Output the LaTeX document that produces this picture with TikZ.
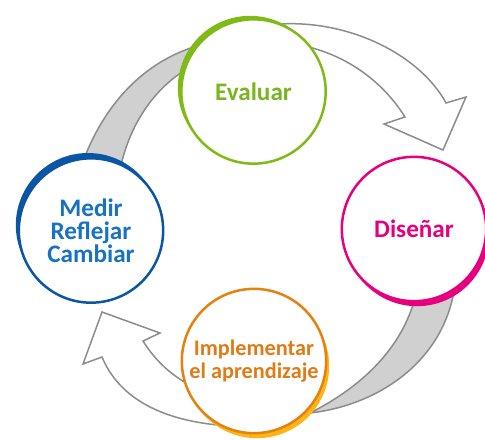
\documentclass[tikz,border=0pt]{standalone}
\usepackage{fontspec}
\setmainfont{Carlito}
\usetikzlibrary{positioning,backgrounds}
\pgfdeclarelayer{bg}
\pgfsetlayers{bg,main}

\definecolor{evgreen}{HTML}{80BA17}
\definecolor{evtext}{HTML}{78B51F}
\definecolor{dsmagenta}{HTML}{E6007E}
\definecolor{mdblue}{HTML}{0A56A4}
\definecolor{mdtext}{HTML}{1872C2}
\definecolor{imorange}{HTML}{E3820F}
\definecolor{imyellow}{HTML}{FDB515}
\definecolor{imtext}{HTML}{E07B16}
\definecolor{arrline}{HTML}{8C8C8C}
\definecolor{arrfill}{HTML}{D0D0D0}

\begin{document}
\begin{tikzpicture}[
  x=0.03cm, y=0.03cm, % 1 unit = 1 px of the sketch
  font=\bfseries,
  stage/.style ={circle,minimum size=4.33cm,inner sep=0pt,fill=white,line width=0.75mm,align=center},
  lift/.style 2 args={preaction={fill=#1,transform canvas={shift={#2}}}},
  bigtxt/.style={font=\bfseries\fontsize{21.5}{19.5}\selectfont},
  smalltxt/.style={font=\bfseries\fontsize{19}{19}\selectfont},
  backarrow/.style ={fill=arrfill,draw=arrline,line width=0.45mm,line join=round},
  frontarrow/.style={fill=white,draw=arrline,line width=0.45mm,line join=miter}
]
\useasboundingbox (0,0) rectangle (485,-439);

% ==================================================
% STAGES (clockwise, starting at the top)
% ==================================================
\node[stage, bigtxt, draw=evgreen, text=evtext,
      lift={evgreen}{(-1.05mm,1.05mm)}] (evaluar) at (253.5,-91.5) {Evaluar};

\node[stage, bigtxt, draw=dsmagenta, text=dsmagenta,
      lift={dsmagenta}{(0.9mm,-1.5mm)}] (disenar) at (414,-229) {Diseñar};

\node[stage, smalltxt, draw=imorange, text=imtext,
      lift={imyellow}{(0.9mm,-1.5mm)}] (implementar) at (254,-361)
  {Implementar\\el aprendizaje};

\node[stage, bigtxt, draw=mdblue, text=mdtext,
      lift={mdblue}{(-0.9mm,1.6mm)}] (medir) at (91,-230.5)
  {Medir\\Reflejar\\Cambiar};

% ==================================================
% RIBBON ARROWS (behind the stages)
% ==================================================
\begin{pgfonlayer}{bg}
  % medir -> evaluar, back face of the ribbon
  \path[backarrow] (80,-170) .. controls (100,-110) and (140,-62) .. (200,-45)
    -- (200,-62) .. controls (160,-80) and (130,-120) .. (120,-170) -- cycle;

  % evaluar -> disenar, front face with head
  \path[frontarrow] (280,-24) .. controls (350,-20) and (420,-55) .. (446,-103)
    -- (466,-97) -- (443,-150) -- (384,-124) -- (405,-117)
    .. controls (385,-85) and (350,-55) .. (300,-45) -- cycle;

  % disenar -> implementar, back face of the ribbon
  \path[backarrow] (455,-285) .. controls (445,-360) and (380,-405) .. (310,-413)
    .. controls (365,-385) and (405,-345) .. (417,-290) -- cycle;

  % implementar -> medir, front face with head
  \path[frontarrow] (195,-388) .. controls (170,-375) and (155,-360) .. (143,-341)
    -- (160,-333) -- (102,-312) -- (83,-364) -- (102,-357)
    .. controls (120,-400) and (165,-422) .. (230,-426) -- cycle;
\end{pgfonlayer}

\end{tikzpicture}
\end{document}
